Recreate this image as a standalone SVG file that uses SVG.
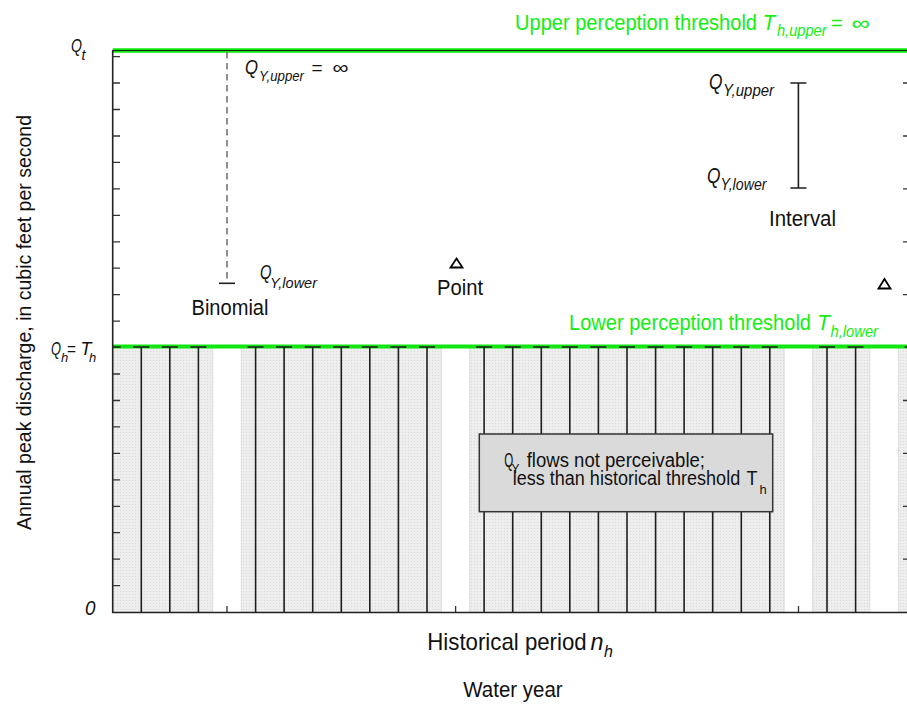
<svg xmlns="http://www.w3.org/2000/svg" width="907" height="706" viewBox="0 0 907 706">
<defs>
<style>
.t{font-family:"Liberation Sans",Arial,Helvetica,sans-serif;fill:#111}
.i{font-style:italic}
.g{fill:#14ee14}
.ax{stroke:#222;stroke-width:1.6;fill:none}
.tk{stroke:#333;stroke-width:1.3;fill:none}
.yr{stroke:#1e1e1e;stroke-width:1.6;fill:none}
.cell{fill:url(#dots);stroke:#dcdcdc;stroke-width:1}
.tri{fill:#fff;stroke:#000;stroke-width:1.8;stroke-linejoin:miter}
</style>
<pattern id="dots" width="3" height="3" patternUnits="userSpaceOnUse"><rect width="3" height="3" fill="#eeeeee"/><rect width="1" height="1" fill="#d8d8d8"/></pattern>
</defs>

<g id="bottom-ticks"><path class="tk" d="M227 612V606M341.3 612V606M455.6 612V606M569.9 612V606M684.2 612V606M798.5 612V606"/></g>

<g id="historical-years">
<rect class="cell" x="112.7" y="347" width="100" height="265"/>
<rect class="cell" x="241.3" y="347" width="200" height="265"/>
<rect class="cell" x="469.8" y="347" width="314.3" height="265"/>
<rect class="cell" x="812.7" y="347" width="57.1" height="265"/>
<rect class="cell" x="898.4" y="347" width="30" height="265"/>
</g>

<g id="lower-threshold">
<line x1="112.7" y1="346.5" x2="907" y2="346.5" stroke="#11e611" stroke-width="4"/>
<text class="t g"><tspan x="569" y="330" font-size="22" textLength="242" lengthAdjust="spacingAndGlyphs">Lower perception threshold</tspan><tspan x="817" y="330" font-size="22" class="i" textLength="13" lengthAdjust="spacingAndGlyphs">T</tspan><tspan x="830.5" y="336.5" font-size="16" class="i" textLength="47.5" lengthAdjust="spacingAndGlyphs">h,lower</tspan></text>
</g>

<g id="upper-threshold">
<line x1="112.7" y1="50.5" x2="907" y2="50.5" stroke="#11e611" stroke-width="4.5"/>
<line x1="112.7" y1="50.5" x2="907" y2="50.5" stroke="#0a2a0a" stroke-width="1"/>
<text class="t g"><tspan x="515" y="29.5" font-size="22" textLength="242" lengthAdjust="spacingAndGlyphs">Upper perception threshold</tspan><tspan x="762.5" y="29.5" font-size="22" class="i" textLength="13" lengthAdjust="spacingAndGlyphs">T</tspan><tspan x="777" y="35.5" font-size="16" class="i" textLength="49.5" lengthAdjust="spacingAndGlyphs">h,upper</tspan><tspan x="831" y="29.5" font-size="20">=</tspan><tspan x="851.5" y="29.5" font-size="20" textLength="18.5" lengthAdjust="spacingAndGlyphs">∞</tspan></text>
</g>

<g id="connectors">
<path class="yr" d="M141.3 347V612M169.8 347V612M198.4 347V612M255.6 347V612M284.1 347V612M312.7 347V612M341.3 347V612M369.8 347V612M398.4 347V612M427 347V612M484.1 347V612M512.7 347V612M541.3 347V612M569.8 347V612M598.4 347V612M627 347V612M655.6 347V612M684.1 347V612M712.7 347V612M741.3 347V612M769.8 347V612M827 347V612M855.6 347V612"/>
<path class="yr" d="M112.7 347H120.7M133.3 347H149.3M161.8 347H177.8M190.4 347H206.4M247.6 347H263.6M276.1 347H292.1M304.7 347H320.7M333.3 347H349.3M361.8 347H377.8M390.4 347H406.4M419 347H435M476.1 347H492.1M504.7 347H520.7M533.3 347H549.3M561.8 347H577.8M590.4 347H606.4M619 347H635M647.6 347H663.6M676.1 347H692.1M704.7 347H720.7M733.3 347H749.3M761.8 347H777.8M819 347H835M847.6 347H863.6M904.7 347H907"/>
<line x1="227" y1="52" x2="227" y2="283" stroke="#555" stroke-width="1.3" stroke-dasharray="6.5,4.5"/>
<path class="yr" d="M219 283.3H235"/>
<path class="yr" d="M798.4 83V188M790.4 83H806.4M790.4 188H806.4"/>
</g>

<g id="axes">
<path class="ax" d="M112.7 50V612.5H907"/>
<path class="tk" d="M112.7 56.6H120M112.7 83H120M112.7 109.5H120M112.7 136H120M112.7 162.4H120M112.7 188.9H120M112.7 215.3H120M112.7 241.8H120M112.7 268.2H120M112.7 294.7H120M112.7 321.1H120M112.7 374H120M112.7 400.5H120M112.7 426.9H120M112.7 453.4H120M112.7 479.8H120M112.7 506.3H120M112.7 532.7H120M112.7 559.2H120M112.7 585.6H120"/>
<path class="tk" d="M903 83H907M903 136H907M903 188.9H907M903 241.8H907M903 294.7H907M903 400.5H907M903 453.4H907M903 506.3H907M903 559.2H907"/>
</g>

<g id="binomial">
<text class="t"><tspan x="245" y="74" font-size="20" class="i" textLength="13" lengthAdjust="spacingAndGlyphs">Q</tspan><tspan x="259" y="80.5" font-size="15" class="i" textLength="45" lengthAdjust="spacingAndGlyphs">Y,upper</tspan><tspan x="311.5" y="74" font-size="19">=</tspan><tspan x="332.5" y="74" font-size="19" textLength="16" lengthAdjust="spacingAndGlyphs">∞</tspan></text>
<text class="t"><tspan x="260" y="279" font-size="20" class="i" textLength="11.5" lengthAdjust="spacingAndGlyphs">Q</tspan><tspan x="270" y="288" font-size="15" class="i" textLength="47" lengthAdjust="spacingAndGlyphs">Y,lower</tspan></text>
<text class="t" x="191.5" y="315" font-size="22" textLength="77" lengthAdjust="spacingAndGlyphs">Binomial</text>
</g>

<g id="point">
<path class="tri" d="M456.5 258.5L462.5 267.5H450.5Z"/>
<text class="t" x="437" y="295" font-size="22" textLength="46" lengthAdjust="spacingAndGlyphs">Point</text>
</g>

<g id="point-right">
<path class="tri" d="M884.5 279L890.5 288.5H878.5Z"/>
</g>

<g id="interval">
<text class="t"><tspan x="709" y="89" font-size="22" class="i" textLength="13.5" lengthAdjust="spacingAndGlyphs">Q</tspan><tspan x="723" y="95.5" font-size="17" class="i" textLength="51" lengthAdjust="spacingAndGlyphs">Y,upper</tspan></text>
<text class="t"><tspan x="707" y="183" font-size="22" class="i" textLength="13.5" lengthAdjust="spacingAndGlyphs">Q</tspan><tspan x="720.5" y="190" font-size="17" class="i" textLength="46" lengthAdjust="spacingAndGlyphs">Y,lower</tspan></text>
<text class="t" x="769" y="226" font-size="22" textLength="67" lengthAdjust="spacingAndGlyphs">Interval</text>
</g>

<g id="not-perceivable">
<rect x="479.3" y="434" width="293.4" height="77.7" fill="#dadada" stroke="#333" stroke-width="1.5"/>
<text class="t" font-size="20"><tspan x="504.3" y="466.7" textLength="9" lengthAdjust="spacingAndGlyphs">Q</tspan><tspan x="511.5" y="472.5" font-size="12">Y</tspan><tspan x="526.7" y="466.7" textLength="178.3" lengthAdjust="spacingAndGlyphs">flows not perceivable;</tspan></text>
<text class="t" font-size="20"><tspan x="512.7" y="485" textLength="227.5" lengthAdjust="spacingAndGlyphs">less than historical threshold</tspan><tspan x="746.5" y="485" textLength="11" lengthAdjust="spacingAndGlyphs">T</tspan><tspan x="759.5" y="494" font-size="13">h</tspan></text>
</g>

<g id="y-labels">
<text class="t"><tspan x="71" y="52" font-size="18" class="i" textLength="11" lengthAdjust="spacingAndGlyphs">Q</tspan><tspan x="81.5" y="60" font-size="14" class="i">t</tspan></text>
<text class="t"><tspan x="51" y="355" font-size="19" class="i" textLength="10" lengthAdjust="spacingAndGlyphs">Q</tspan><tspan x="61" y="362" font-size="13" class="i">h</tspan><tspan x="67" y="355" font-size="19" textLength="9" lengthAdjust="spacingAndGlyphs">=</tspan><tspan x="80.5" y="355" font-size="19" class="i" textLength="11" lengthAdjust="spacingAndGlyphs">T</tspan><tspan x="89" y="362" font-size="13" class="i">h</tspan></text>
<text class="t i" x="85" y="614.5" font-size="21" textLength="10.5" lengthAdjust="spacingAndGlyphs">0</text>
<text class="t" x="31" y="322.5" font-size="21" text-anchor="middle" textLength="415" lengthAdjust="spacingAndGlyphs" transform="rotate(-90 31 322.5)">Annual peak discharge, in cubic feet per second</text>
</g>

<g id="x-labels">
<text class="t"><tspan x="427.3" y="650" font-size="24" textLength="159.4" lengthAdjust="spacingAndGlyphs">Historical period</tspan><tspan x="590.5" y="650" font-size="24" class="i" textLength="13" lengthAdjust="spacingAndGlyphs">n</tspan><tspan x="604" y="657" font-size="16" class="i">h</tspan></text>
<text class="t" x="463.3" y="697" font-size="22" textLength="99.3" lengthAdjust="spacingAndGlyphs">Water year</text>
</g>
</svg>
